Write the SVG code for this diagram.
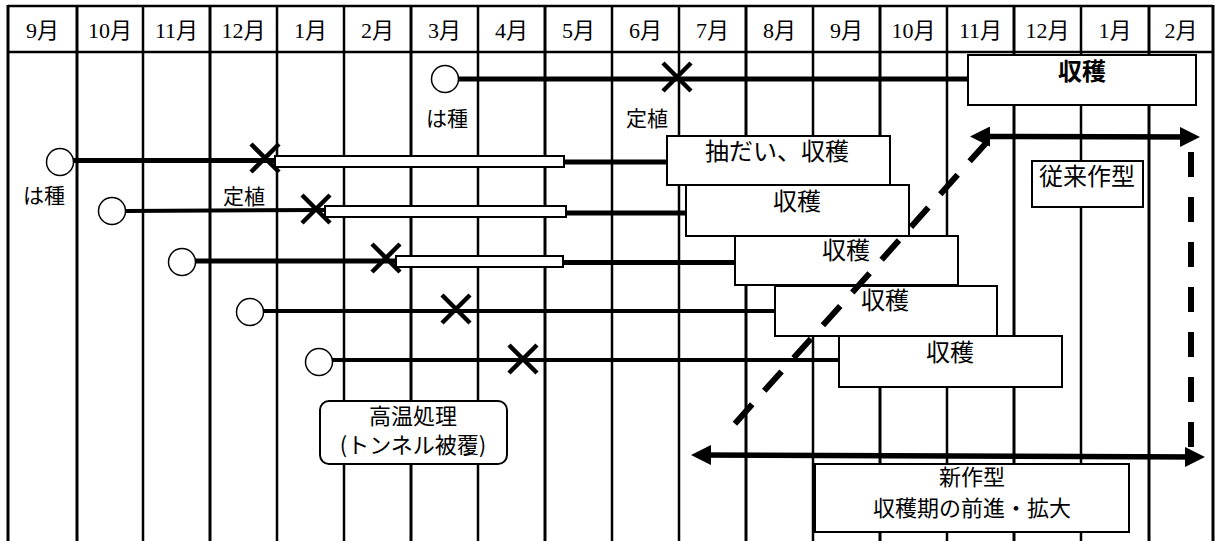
<svg xmlns="http://www.w3.org/2000/svg" width="1216" height="541" viewBox="0 0 1216 541">
<style>
.grid{stroke:#000;stroke-width:2.5;fill:none}
.hdr{font-family:"Liberation Serif","Noto Sans CJK JP",serif;font-size:22px;text-anchor:middle;fill:#000}
.lbl{font-family:"Noto Sans CJK JP",sans-serif;font-size:24px;text-anchor:middle;fill:#000}
.sm{font-size:21px}
.two{font-size:22px}
.bold{font-weight:bold}
.box{fill:#fff;stroke:#000;stroke-width:2}
.seed{fill:#fff;stroke:#000;stroke-width:1.5}
.xm{stroke:#000;stroke-width:4.5;fill:none}
.ln{stroke:#000;stroke-width:5;fill:none}
.ln4{stroke:#000;stroke-width:4;fill:none}
.dbl{fill:#fff;stroke:#000;stroke-width:2}
.dash{stroke:#000;stroke-width:6;fill:none;stroke-dasharray:26 18}
.vdash{stroke:#000;stroke-width:6;fill:none;stroke-dasharray:25 20}
.arr{stroke:#000;stroke-width:5.5;fill:none;marker-start:url(#ah);marker-end:url(#ah)}
</style>
<defs>
<marker id="ah" viewBox="0 0 20 20" refX="14" refY="10" markerWidth="20" markerHeight="20" markerUnits="userSpaceOnUse" orient="auto-start-reverse">
<path d="M0,0 L20,10 L0,20 Z" fill="#000"/>
</marker>
<path id="xmark" d="M-14,-14 L14,14 M-14,14 L14,-14"/>
</defs>
<rect width="1216" height="541" fill="#fff"/>
<g id="grid" class="grid">
<line x1="8" y1="6" x2="1213" y2="6"/>
<line x1="8" y1="52" x2="1213" y2="52"/>
<line x1="8" y1="5" x2="8" y2="541" stroke-width="3"/>
<line x1="77" y1="5" x2="77" y2="541" stroke-width="3"/>
<line x1="143" y1="5" x2="143" y2="541"/>
<line x1="210" y1="5" x2="210" y2="541" stroke-width="3"/>
<line x1="277" y1="5" x2="277" y2="541"/>
<line x1="344" y1="5" x2="344" y2="541"/>
<line x1="411" y1="5" x2="411" y2="541" stroke-width="3"/>
<line x1="478" y1="5" x2="478" y2="541"/>
<line x1="545" y1="5" x2="545" y2="541" stroke-width="3"/>
<line x1="612" y1="5" x2="612" y2="541"/>
<line x1="679" y1="5" x2="679" y2="541"/>
<line x1="746" y1="5" x2="746" y2="541" stroke-width="3"/>
<line x1="813" y1="5" x2="813" y2="541"/>
<line x1="880" y1="5" x2="880" y2="541" stroke-width="3"/>
<line x1="947" y1="5" x2="947" y2="541"/>
<line x1="1014" y1="5" x2="1014" y2="541" stroke-width="3"/>
<line x1="1081" y1="5" x2="1081" y2="541"/>
<line x1="1149" y1="5" x2="1149" y2="541" stroke-width="3"/>
<line x1="1213" y1="5" x2="1213" y2="541" stroke-width="3"/>
</g>
<g id="header" class="hdr">
<text x="42.5" y="38">9月</text>
<text x="110" y="38">10月</text>
<text x="176.5" y="38">11月</text>
<text x="243.5" y="38">12月</text>
<text x="310.5" y="38">1月</text>
<text x="377.5" y="38">2月</text>
<text x="444.5" y="38">3月</text>
<text x="511.5" y="38">4月</text>
<text x="578.5" y="38">5月</text>
<text x="645.5" y="38">6月</text>
<text x="712.5" y="38">7月</text>
<text x="779.5" y="38">8月</text>
<text x="846.5" y="38">9月</text>
<text x="913.5" y="38">10月</text>
<text x="980.5" y="38">11月</text>
<text x="1047.5" y="38">12月</text>
<text x="1115" y="38">1月</text>
<text x="1181" y="38">2月</text>
</g>
<g id="row1">
<circle class="seed" cx="445" cy="79" r="13.5"/>
<use href="#xmark" class="xm" x="677" y="77"/>
<text class="lbl sm" x="447" y="126">は種</text>
<text class="lbl sm" x="647" y="126">定植</text>
</g>
<g id="row2">
<circle class="seed" cx="60" cy="162" r="13.5"/>
<rect class="dbl" x="275" y="156" width="289" height="11"/>
<use href="#xmark" class="xm" x="265" y="158"/>
<text class="lbl sm" x="44" y="203">は種</text>
<text class="lbl sm" x="244" y="204">定植</text>
</g>
<g id="row3">
<circle class="seed" cx="112" cy="211" r="13.5"/>
<rect class="dbl" x="325" y="206" width="241" height="11"/>
<use href="#xmark" class="xm" x="316" y="209"/>
</g>
<g id="row4">
<circle class="seed" cx="182" cy="262" r="13.5"/>
<rect class="dbl" x="396" y="256" width="167" height="11"/>
<use href="#xmark" class="xm" x="386" y="258"/>
</g>
<g id="row5">
<circle class="seed" cx="250" cy="312" r="13.5"/>
<use href="#xmark" class="xm" x="456" y="309"/>
</g>
<g id="row6">
<circle class="seed" cx="319" cy="362" r="13.5"/>
<use href="#xmark" class="xm" x="523" y="359"/>
</g>
<g id="harvest1">
<rect class="box" x="968" y="55" width="228" height="50"/>
<text class="lbl bold" x="1082" y="80">収穫</text>
</g>
<g id="harvest2">
<rect class="box" x="667" y="136" width="223" height="49"/>
<text class="lbl" x="777" y="160">抽だい、収穫</text>
</g>
<g id="harvest3">
<rect class="box" x="686" y="185" width="223" height="51"/>
<text class="lbl" x="797" y="210">収穫</text>
</g>
<g id="harvest4">
<rect class="box" x="735" y="236" width="223" height="49"/>
<text class="lbl" x="846" y="259">収穫</text>
</g>
<g id="harvest5">
<rect class="box" x="775" y="286" width="222" height="50"/>
<text class="lbl" x="885" y="309">収穫</text>
</g>
<g id="harvest6">
<rect class="box" x="839" y="336" width="223" height="51"/>
<text class="lbl" x="950" y="361">収穫</text>
</g>
<g id="heat">
<rect class="box" x="320" y="401" width="187" height="63" rx="9"/>
<text class="lbl two" x="413" y="424">高温処理</text>
<text class="lbl two" x="413" y="453">(トンネル被覆)</text>
</g>
<g id="conventional">
<rect class="box" x="1032" y="161" width="111" height="46"/>
<text class="lbl" x="1087" y="185">従来作型</text>
</g>
<g id="newtype">
<rect class="box" x="815" y="464" width="314" height="68"/>
<text class="lbl two" x="972" y="485">新作型</text>
<text class="lbl two" x="972" y="516">収穫期の前進・拡大</text>
</g>
<g id="connectors">
<line class="ln" x1="458" y1="79" x2="968" y2="79" stroke-width="6"/>
<line class="ln" x1="73" y1="160.5" x2="275" y2="160.5"/>
<line class="ln" x1="564" y1="162" x2="667" y2="162"/>
<line class="ln4" x1="125" y1="211" x2="325" y2="210"/>
<line class="ln" x1="566" y1="213" x2="686" y2="213"/>
<line class="ln" x1="195" y1="261" x2="396" y2="261"/>
<line class="ln" x1="563" y1="262.5" x2="735" y2="262.5"/>
<line class="ln4" x1="263" y1="311" x2="775" y2="311"/>
<line class="ln4" x1="332" y1="360" x2="839" y2="360"/>
<line class="dash" x1="987" y1="142" x2="731" y2="428"/>
<line class="vdash" x1="1191" y1="152" x2="1191" y2="447"/>
<line class="arr" x1="976" y1="136.5" x2="1194" y2="137"/>
<line class="arr" x1="697" y1="455" x2="1199" y2="457"/>
</g>
</svg>
